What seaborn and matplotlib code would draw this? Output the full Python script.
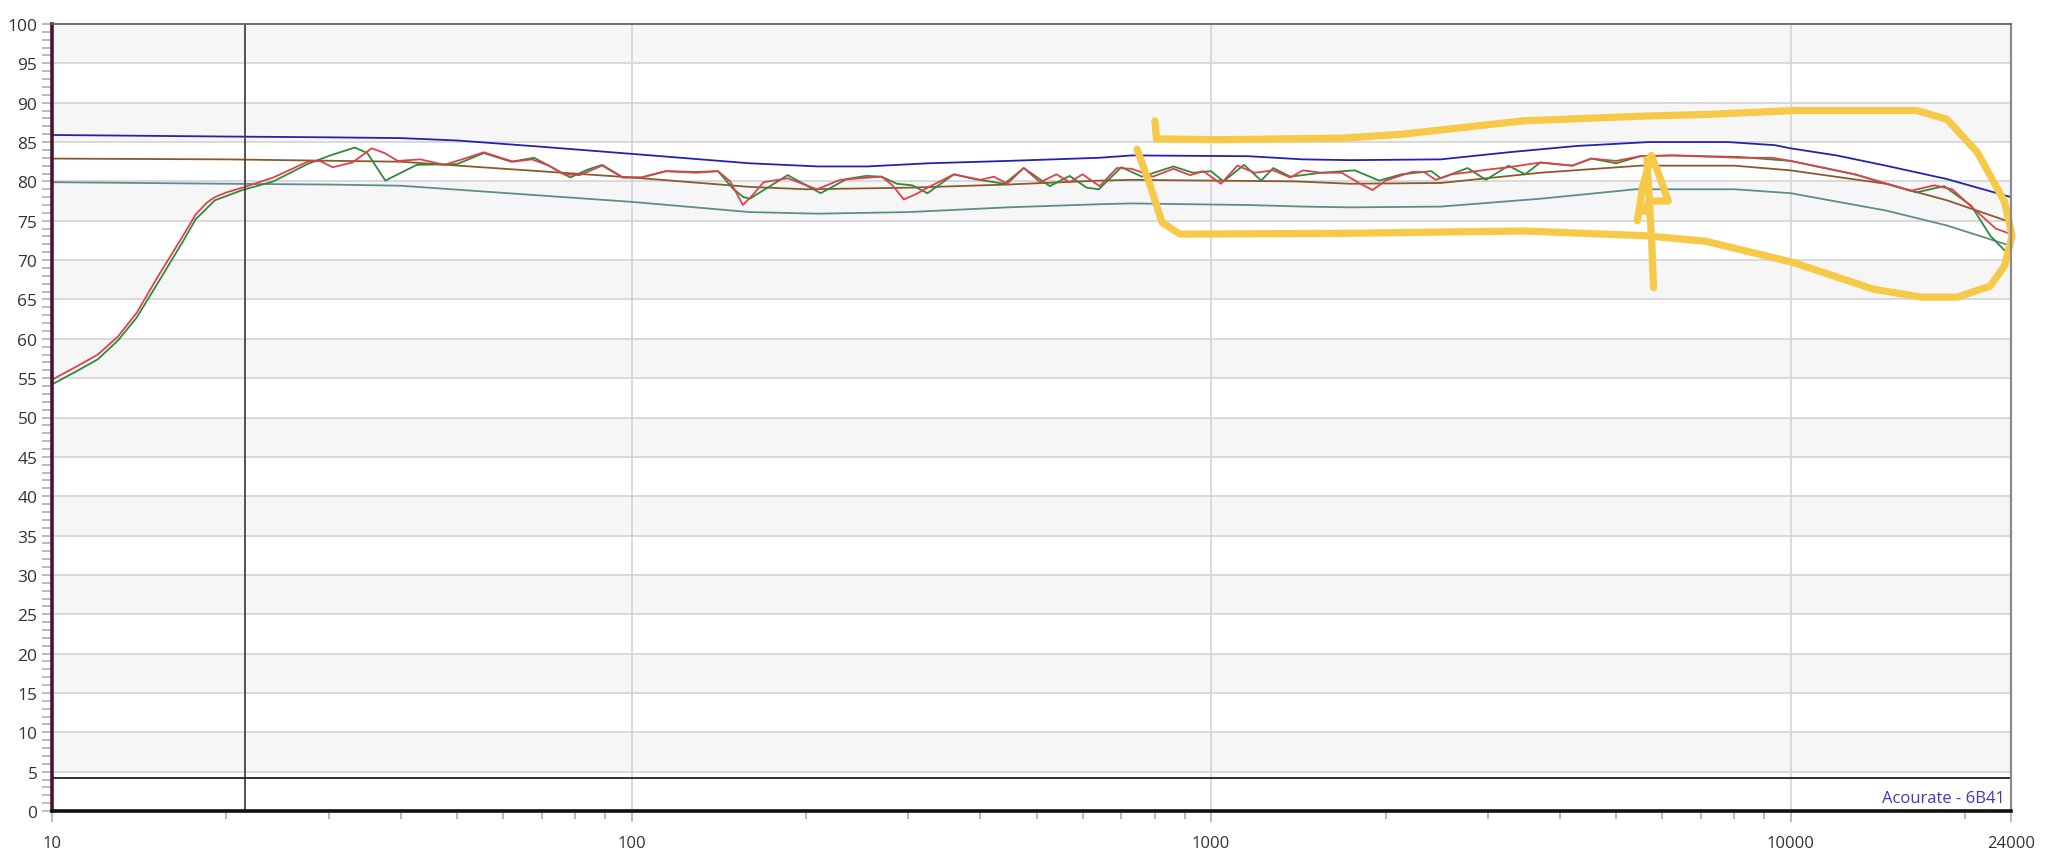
import numpy as np
import pandas as pd
import matplotlib
matplotlib.use("Agg")
import matplotlib.pyplot as plt
import seaborn as sns
from matplotlib.ticker import FixedLocator, NullFormatter, FixedFormatter

sns.set_theme(style="white")
plt.rcParams['font.family'] = ['Open Sans', 'DejaVu Sans']

# ---------------- data (Hz, dB) ----------------
upper_f = [10, 20, 30, 40, 50, 70, 100, 160, 210, 255, 325, 445, 640, 730, 1160, 1440, 1740,
           2490, 3260, 4270, 5700, 7800, 9400, 10000, 12000, 14600, 18600, 24000]
upper_db = [85.9, 85.7, 85.6, 85.5, 85.2, 84.4, 83.5, 82.3, 81.9, 81.9, 82.3, 82.6, 83.0, 83.3, 83.2,
            82.8, 82.7, 82.8, 83.7, 84.5, 85.0, 85.0, 84.6, 84.2, 83.3, 82.0, 80.3, 78.0]

target_f = [10, 20, 40, 100, 160, 200, 300, 445, 640, 730, 1400, 1740, 2490, 3700, 5500, 8000,
            10000, 14600, 18600, 24000]
target_db = [82.9, 82.8, 82.5, 80.5, 79.3, 79.0, 79.2, 79.6, 80.1, 80.2, 80.0, 79.7, 79.8, 81.1,
             82.0, 82.0, 81.4, 79.7, 77.6, 74.8]

lower_f = [10, 20, 30, 40, 100, 160, 210, 300, 445, 640, 730, 1160, 1440, 1740, 2490, 3700, 5400,
           8000, 10000, 14600, 18600, 24000]
lower_db = [79.9, 79.7, 79.6, 79.45, 77.4, 76.1, 75.9, 76.1, 76.7, 77.1, 77.2, 77.0, 76.8, 76.7,
            76.8, 77.8, 79.0, 79.0, 78.5, 76.3, 74.4, 71.8]

red_f = [10, 11.1, 12, 13, 14, 15.2, 16.8, 17.7, 18.5, 19.1, 20, 21.3, 24.1, 27.6, 29, 30.5, 33,
         35.6, 37.5, 39.5, 43.2, 47.5, 51, 55.6, 62.5, 67.3, 72, 76.4, 81.4, 89, 96.6, 104, 114.6,
         129, 141, 148, 155.6, 162, 169, 186, 209, 229, 270, 282, 295, 310, 328, 360, 400, 422,
         445, 475, 507, 541, 570, 600, 642, 688, 730, 793, 861, 920, 970, 1040, 1110, 1190, 1280,
         1370, 1440, 1550, 1680, 1810, 1900, 2000, 2220, 2330, 2440, 2600, 2740, 3000, 3260,
         3700, 4200, 4530, 5000, 5500, 6260, 8180, 9300, 10000, 12900, 16100, 17700, 19000,
         21000, 22600, 24000]
red_db = [54.8, 56.6, 58.0, 60.3, 63.3, 67.8, 73.0, 75.8, 77.3, 78.0, 78.6, 79.2, 80.5, 82.5, 82.6,
          81.8, 82.4, 84.2, 83.6, 82.6, 82.8, 82.1, 82.8, 83.7, 82.5, 82.8, 82.0, 80.9, 80.8, 82.0,
          80.5, 80.5, 81.3, 81.1, 81.3, 80.0, 77.0, 78.3, 79.9, 80.4, 79.0, 80.2, 80.6, 79.5,
          77.7, 78.4, 79.4, 80.9, 80.2, 80.6, 79.7, 81.7, 79.9, 80.9, 79.9, 80.9, 79.4, 81.7,
          81.6, 80.6, 81.6, 80.8, 81.3, 79.7, 82.0, 81.1, 81.4, 80.5, 81.4, 81.1, 81.1, 79.7,
          78.9, 80.1, 81.2, 81.2, 80.2, 80.9, 81.1, 81.5, 81.8, 82.4, 82.0, 82.9, 82.6, 83.2,
          83.3, 83.0, 83.0, 82.6, 80.9, 78.8, 79.5, 79.0, 76.1, 74.0, 73.3]

green_f = [10, 11.1, 12, 13, 14, 15.2, 16.8, 17.7, 19.1, 21.3, 24.1, 27.6, 30.2, 33.3, 35, 37.6,
           40, 42.6, 50, 55.6, 62, 67.9, 72, 78.4, 84, 89, 96.6, 104, 114.6, 129, 141, 150, 156,
           160, 186, 212, 235, 254, 270, 287, 305, 324, 360, 390, 440, 475, 527, 570, 610, 640,
           700, 760, 861, 930, 1000, 1050, 1140, 1220, 1280, 1370, 1550, 1770, 1950, 2130, 2400,
           2490, 2770, 2980, 3260, 3480, 3700, 4200, 4530, 5000, 5500, 6260, 8180, 10000, 12900,
           16500, 18400, 20500, 22100, 24000]
green_db = [54.2, 56.0, 57.4, 59.8, 62.7, 67.0, 72.3, 75.2, 77.6, 78.9, 80.0, 82.2, 83.3, 84.3,
            83.6, 80.1, 81.1, 82.1, 82.2, 83.6, 82.5, 83.0, 82.0, 80.5, 81.5, 82.1, 80.5, 80.5,
            81.3, 81.2, 81.3, 79.0, 78.0, 77.8, 80.8, 78.5, 80.3, 80.7, 80.6, 79.7, 79.5, 78.5,
            80.9, 80.3, 79.7, 81.7, 79.4, 80.7, 79.2, 79.0, 81.8, 80.6, 81.9, 81.1, 81.3, 80.0,
            82.1, 80.1, 81.7, 80.6, 81.1, 81.4, 80.1, 80.9, 81.3, 80.4, 81.7, 80.2, 82.0, 80.9,
            82.4, 82.0, 82.9, 82.3, 83.2, 83.3, 83.1, 82.6, 80.9, 78.6, 79.4, 76.9, 73.1, 70.4]

# hand-drawn yellow annotation (Hz, dB)
loop_f = [800, 805, 1045, 1690, 2140, 3460, 5600, 7130, 10100, 16500, 18600, 21000, 23400, 24100,
          23400, 22100, 19400, 16800, 13900, 10100, 7130, 5600, 3460, 1690, 883, 823, 785, 745]
loop_db = [87.7, 85.4, 85.3, 85.5, 86.0, 87.7, 88.3, 88.5, 89.0, 89.0, 87.9, 83.7, 77.4, 73.1,
           69.3, 66.7, 65.3, 65.3, 66.3, 69.7, 72.4, 73.1, 73.7, 73.4, 73.3, 74.8, 79.5, 84.1]
arrow_f = [5800, 5760, 5700, 5650]
arrow_db = [66.5, 72.0, 78.0, 82.8]
head_f = [5440, 5560, 5750, 5950, 6150, 5700, 5600]
head_db = [75.0, 79.5, 83.3, 80.5, 77.5, 77.5, 76.2]

series_names = ["lower", "target", "upper", "green", "red"]
series_colors = ["#5f8c8e", "#8a5a2e", "#2323b0", "#2e8b3a", "#e0404c"]

y_ticks = list(range(0, 101, 5))
x_major = [10, 100, 1000, 10000, 24000]
x_labels = ["10", "100", "1000", "10000", "24000"]
x_minor = [m * d for d in (10, 100, 1000) for m in range(2, 10)] + [20000]
marker_freq = 21.5
floor_db = 4.2

# ---------------- figure ----------------
fig = plt.figure(figsize=(20.48, 8.54), dpi=100)
fig.patch.set_facecolor("white")
ax = fig.add_axes([52 / 2048, 42 / 854, (2011 - 52) / 2048, (812 - 25) / 854])
ax.set_facecolor("white")

for lo in y_ticks[1:-1:2]:
    ax.axhspan(lo, lo + 5, color="#f6f6f6", zorder=0, lw=0)
for y in y_ticks[1:-1]:
    ax.axhline(y, color="#d9d9d9", lw=1.4, zorder=0.5)
for x in x_major[1:4]:
    ax.axvline(x, color="#d4d4d4", lw=1.2, zorder=0.5)

frames = []
for name, f, d in [("lower", lower_f, lower_db), ("target", target_f, target_db),
                   ("upper", upper_f, upper_db), ("green", green_f, green_db),
                   ("red", red_f, red_db)]:
    frames.append(pd.DataFrame({"freq": f, "db": d, "series": name}))
df = pd.concat(frames, ignore_index=True)

sns.lineplot(data=df, x="freq", y="db", hue="series", hue_order=series_names,
             palette=dict(zip(series_names, series_colors)), estimator=None,
             lw=1.3, legend=False, ax=ax, zorder=3)

ax.axvline(marker_freq, color="#444444", lw=1.3, zorder=4)
ax.axhline(floor_db, color="#222222", lw=1.3, zorder=4)

yellow = "#f7c948"
for f, d in [(loop_f, loop_db), (arrow_f, arrow_db), (head_f, head_db)]:
    ax.plot(f, d, color=yellow, lw=5.2, solid_capstyle="round", solid_joinstyle="round",
            zorder=5, clip_on=False)

ax.set_xscale("log")
ax.set_xlim(10, 24000)
ax.set_ylim(0, 100)
ax.set_xlabel("")
ax.set_ylabel("")

ax.xaxis.set_major_locator(FixedLocator(x_major))
ax.xaxis.set_major_formatter(FixedFormatter(x_labels))
ax.xaxis.set_minor_locator(FixedLocator(x_minor))
ax.xaxis.set_minor_formatter(NullFormatter())
ax.yaxis.set_major_locator(FixedLocator(y_ticks))
ax.yaxis.set_minor_locator(FixedLocator(list(range(0, 101))))

ax.tick_params(axis="y", which="both", direction="out", length=7.5, width=1.1,
               color="#a8a8a8", labelsize=12.5, labelcolor="#333333", pad=3, left=True)
ax.tick_params(axis="x", which="major", direction="out", length=8, width=1.1,
               color="#a8a8a8", labelsize=12, labelcolor="#333333", pad=9, bottom=True)
ax.tick_params(axis="x", which="minor", direction="out", length=6, width=1.1,
               color="#a8a8a8", bottom=True)

ax.spines["left"].set_color("#4a1535")
ax.spines["left"].set_linewidth(2.6)
ax.spines["bottom"].set_color("#111111")
ax.spines["bottom"].set_linewidth(2.6)
ax.spines["top"].set_color("#666666")
ax.spines["top"].set_linewidth(1.3)
ax.spines["right"].set_color("#8a8a8a")
ax.spines["right"].set_linewidth(1.6)
for s in ax.spines.values():
    s.set_zorder(6)

ax.text(0.997, 0.006, "Acourate - 6B41", transform=ax.transAxes, ha="right", va="bottom",
        color="#3b3bbf", fontsize=12, zorder=7)

fig.savefig("out.png", dpi=100, facecolor="white")
